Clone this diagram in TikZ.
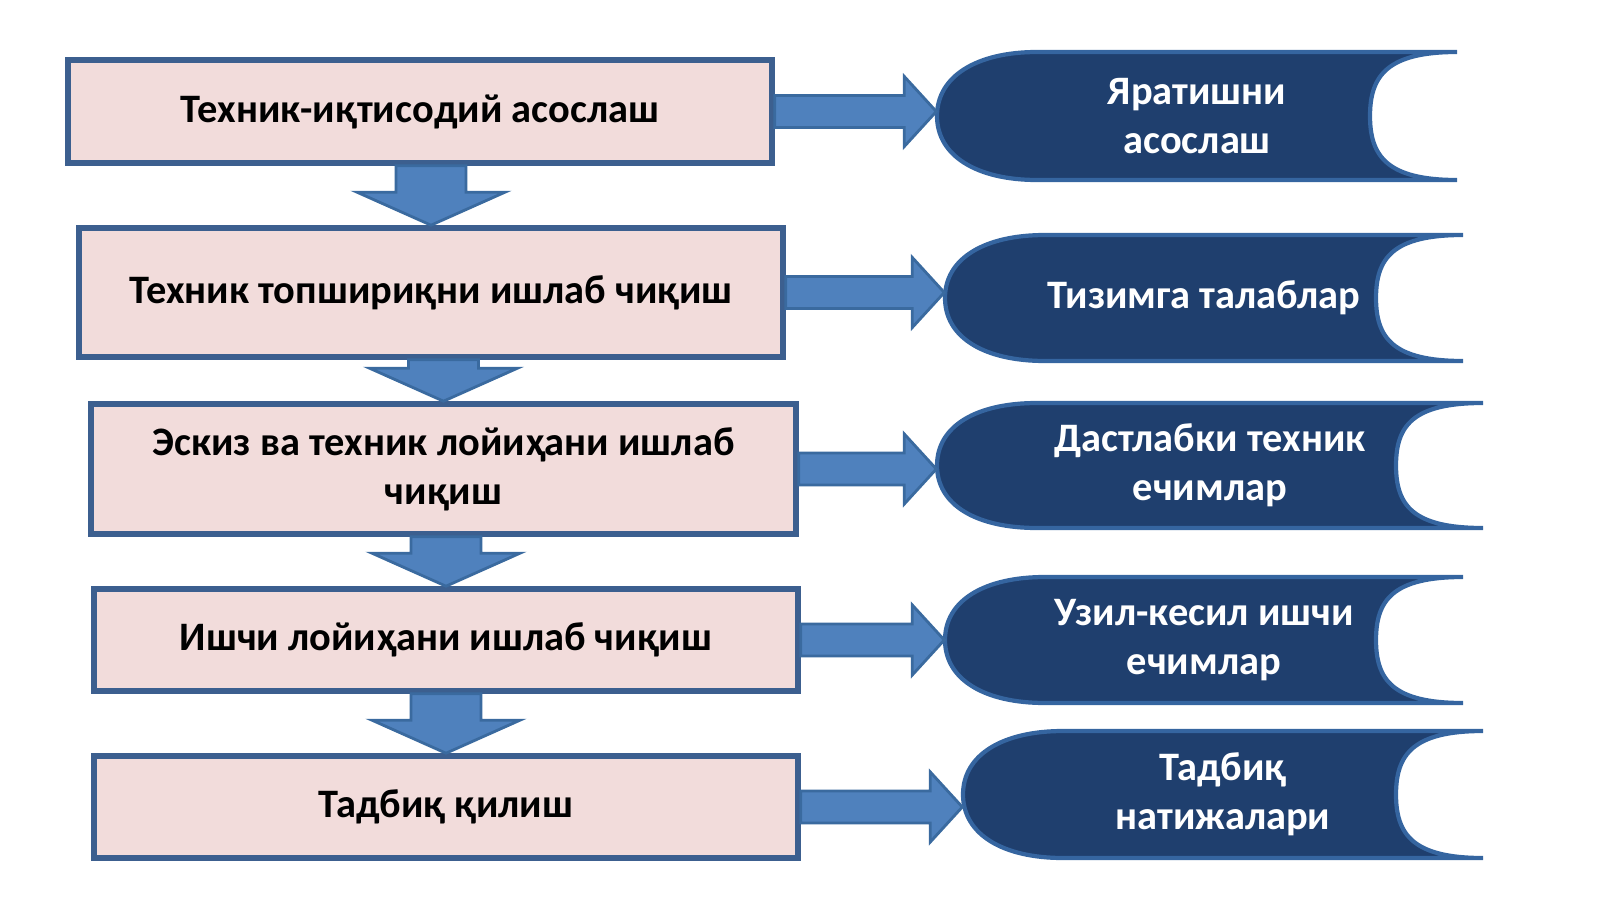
\documentclass[tikz,border=0pt]{standalone}
\usepackage{fontspec}
\setmainfont{Carlito}
\usetikzlibrary{calc}
\definecolor{stagefill}{HTML}{F2DCDB}
\definecolor{stageline}{HTML}{3C5F8F}
\definecolor{arrowfill}{HTML}{4F81BD}
\definecolor{arrowline}{HTML}{3A6A9F}
\definecolor{resfill}{HTML}{1F3F6E}
\definecolor{resline}{HTML}{3565A0}
\begin{document}
\begin{tikzpicture}[
        stage/.style = {rectangle, draw=stageline, line width=1.6pt, fill=stagefill, align=center, font=\fontsize{11.5}{14}\selectfont\bfseries},
        result/.style = {rectangle, align=center, text=white, font=\fontsize{11.5}{14}\selectfont\bfseries},
        blk/.style = {fill=arrowfill, draw=arrowline, line width=0.8pt},
        res/.style = {fill=resfill, draw=resline, line width=1.2pt}
    ]
        \useasboundingbox (0,0) rectangle (16,9);

        % Results (shape drawn first, text on top)
        \foreach \n/\x/\y/\w/\h in {r1/11.97/7.84/5.2/1.28, r2/12.04/6.02/5.18/1.26, r3/12.10/4.345/5.46/1.25, r4/12.04/2.60/5.18/1.26, r5/12.23/1.055/5.2/1.27} {
            \path (\x,\y) coordinate (c) ++(-\w/2,\h/2) coordinate (nw) (c) ++(\w/2,\h/2) coordinate (ne)
                  (c) ++(\w/2,-\h/2) coordinate (se) (c) ++(-\w/2,-\h/2) coordinate (sw);
            \draw [res] ($(nw)+(1,0)$) -- (ne) .. controls +(-0.7,0) and +(0,0.4) .. ($(c)+(\w/2-0.87,0)$)
                .. controls +(0,-0.4) and +(-0.7,0) .. (se) -- ($(sw)+(1,0)$)
                .. controls +(-0.6,0) and +(0,-0.4) .. ($(c)+(-\w/2,0)$)
                .. controls +(0,0.4) and +(-0.6,0) .. cycle;
            \node [minimum width=\w cm, minimum height=\h cm, inner sep=0pt] (\n) at (\x,\y) {};
        }
        \node [result] at (r1) {Яратишни\\асослаш};
        \node [result] at (r2) {Тизимга талаблар};
        \node [result] at (r3) {Дастлабки техник\\ечимлар};
        \node [result] at (r4) {Узил-кесил ишчи\\ечимлар};
        \node [result] at (r5) {Тадбиқ\\натижалари};

        % Stages
        \node [stage, minimum width=7.04cm, minimum height=1.03cm] (s1) at (4.20,7.885) {Техник-иқтисодий асослаш};
        \node [stage, minimum width=7.04cm, minimum height=1.29cm] (s2) at (4.31,6.075) {Техник топшириқни ишлаб чиқиш};
        \node [stage, minimum width=7.05cm, minimum height=1.30cm] (s3) at (4.435,4.31) {Эскиз ва техник лойиҳани ишлаб\\чиқиш};
        \node [stage, minimum width=7.04cm, minimum height=1.02cm] (s4) at (4.46,2.60) {Ишчи лойиҳани ишлаб чиқиш};
        \node [stage, minimum width=7.04cm, minimum height=1.02cm] (s5) at (4.46,0.93) {Тадбиқ қилиш};

        % Down arrows
        \foreach \a/\b in {s1/s2, s2/s3, s3/s4, s4/s5} {
            \draw [blk] let \p1=(\a.south), \p2=(\b.north) in
                (\x2-3.5mm,\y1) -- (\x2+3.5mm,\y1) -- (\x2+3.5mm,\y2+3.3mm) -- (\x2+7.4mm,\y2+3.3mm)
                -- (\x2,\y2) -- (\x2-7.4mm,\y2+3.3mm) -- (\x2-3.5mm,\y2+3.3mm) -- cycle;
        }

        % Right arrows
        \foreach \a/\b in {s1/r1, s2/r2, s3/r3, s4/r4, s5/r5} {
            \draw [blk] let \p1=(\a.east), \p2=(\b.west) in
                (\x1,\y1+1.6mm) -- (\x2-3.2mm,\y1+1.6mm) -- (\x2-3.2mm,\y1+3.5mm) -- (\x2,\y1)
                -- (\x2-3.2mm,\y1-3.5mm) -- (\x2-3.2mm,\y1-1.6mm) -- (\x1,\y1-1.6mm) -- cycle;
        }
    \end{tikzpicture}
\end{document}
